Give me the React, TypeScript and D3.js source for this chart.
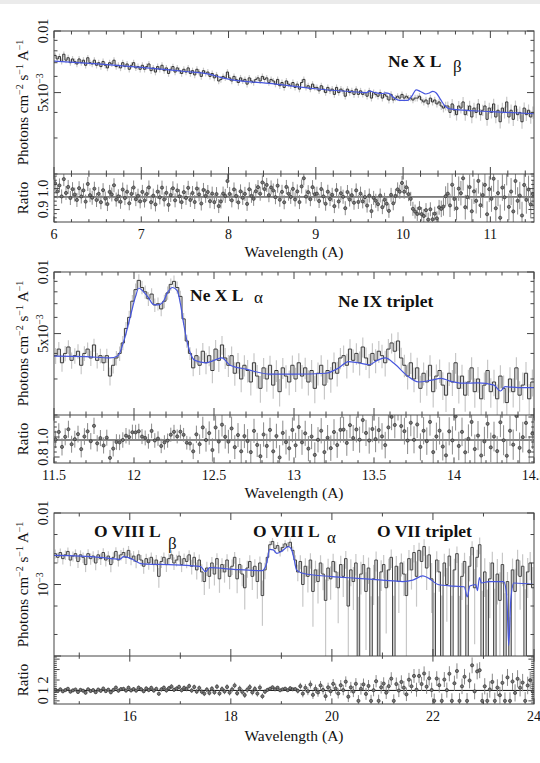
import React from "react";
import * as d3 from "d3";

// ---------------- Panel 1 : 6 – 11.5 Å ----------------
const P1_BIN_START = 6.0;
const P1_BIN_WIDTH = 0.025;
// flux in units of 1e-3 photons cm^-2 s^-1 A^-1
const P1_FLUX = [
  7.6, 7.3, 7.5, 7.1, 7.7, 7.2, 7.4, 7.0, 7.3, 7.1, 6.9, 7.3, 7.0, 7.2, 6.8, 7.4, 7.0, 6.9, 7.2, 6.8,
  7.0, 6.7, 7.1, 6.8, 6.6, 7.0, 6.9, 7.2, 6.7, 6.8, 6.6, 7.0, 6.7, 6.9, 6.5, 6.8, 7.0, 6.6, 6.7, 6.5,
  6.8, 6.5, 6.7, 6.9, 6.4, 6.6, 6.3, 6.7, 6.5, 6.8, 6.4, 6.6, 6.2, 6.5, 6.7, 6.3, 6.6, 6.4, 6.2, 6.5,
  6.3, 6.6, 6.2, 6.4, 6.1, 6.5, 6.3, 6.0, 6.4, 6.2, 6.3, 6.0, 6.2, 5.9, 6.1, 5.7, 5.8, 6.0, 5.9, 6.3,
  5.9, 5.7, 6.0, 5.8, 5.6, 5.9, 5.7, 5.8, 5.5, 5.9, 5.7, 5.6, 5.8, 5.9, 5.7, 6.0, 5.8, 5.9, 5.6, 5.8,
  5.7, 5.5, 5.8, 5.4, 5.6, 5.3, 5.7, 5.5, 5.4, 5.6, 5.3, 5.5, 5.2, 5.6, 5.8, 5.3, 5.4, 5.2, 5.5, 5.3,
  5.3, 5.1, 5.4, 5.2, 5.0, 5.3, 5.1, 5.2, 4.9, 5.3, 5.0, 5.2, 5.1, 4.8, 5.2, 5.0, 5.1, 4.9, 5.2, 4.9,
  5.1, 4.9, 5.0, 4.8, 5.1, 4.7, 5.0, 4.9, 4.8, 5.0, 4.7, 4.9, 4.8, 4.6, 4.9, 4.6, 4.7, 4.8, 4.7, 4.9,
  4.7, 4.8, 4.7, 4.7, 4.6, 4.7, 4.7, 4.8, 4.6, 4.5, 4.6, 4.4, 4.7, 4.5, 4.6, 4.4, 4.5, 4.3, 4.2, 4.3,
  4.3, 4.0, 4.4, 4.1, 3.9, 4.3, 4.2, 4.5, 3.9, 4.1, 4.3, 3.8, 4.2, 4.0, 4.4, 3.9, 4.1, 4.3, 3.7, 4.2,
  4.0, 4.4, 3.8, 4.1, 3.6, 4.2, 4.0, 4.5, 3.8, 4.1, 3.7, 4.3, 3.9, 4.0, 3.6, 4.2, 3.9, 4.1, 3.8, 4.0,
];
const P1_MODEL_WL = [
  6.0, 6.5, 7.0, 7.5, 7.8, 7.9, 8.0, 8.5, 9.0, 9.5,
  9.58, 9.62, 9.68, 9.76, 9.8, 9.84, 9.9, 9.96, 10.05, 10.1,
  10.15, 10.2, 10.26, 10.3, 10.34, 10.38, 10.43, 10.48, 10.55, 11.0,
  11.5,
];
const P1_MODEL = [
  7.12, 6.9, 6.64, 6.34, 6.12, 5.95, 5.82, 5.53, 5.22, 5.02,
  5.0, 5.08, 5.0, 4.95, 4.98, 4.94, 4.7, 4.58, 4.58, 4.8,
  5.16, 5.06, 4.92, 4.98, 5.07, 4.98, 4.62, 4.3, 4.15, 4.04,
  3.94,
];
const P1_ERR_WL = [6.0, 10.4, 10.55, 11.5];
const P1_ERR = [0.035, 0.035, 0.06, 0.07];
const P1_X_LABELS = [6, 7, 8, 9, 10, 11];

// ---------------- Panel 2 : 11.5 – 14.5 Å ----------------
const P2_BIN_START = 11.5;
const P2_BIN_WIDTH = 0.02;
const P2_FLUX = [
  3.9, 4.2, 3.6, 4.0, 4.3, 3.7, 3.9, 4.1, 3.5, 4.0, 4.2, 3.8, 4.4, 3.7, 3.9,
  3.6, 3.9, 3.1, 3.5, 3.8, 4.0, 4.5, 5.3, 6.0, 7.2,
  8.2, 9.1, 8.4, 8.0, 7.4, 7.8, 6.9, 7.0, 6.6, 7.2,
  7.9, 8.7, 9.0, 8.4, 7.6, 5.9, 4.6, 4.0, 3.4, 3.9,
  3.5, 4.1, 3.6, 3.9, 3.3, 4.2, 3.7, 4.4, 3.8, 3.5, 3.9, 3.2, 3.6, 3.0, 3.5,
  3.3, 2.9, 3.6, 3.1, 2.7, 3.4, 3.0, 3.5, 2.8, 3.3, 2.6, 3.4, 3.1, 2.9, 3.5,
  3.0, 3.6, 3.1, 3.4, 2.9, 3.3, 2.7, 3.2, 3.5, 2.8, 3.3, 3.0, 3.6, 3.2, 3.8,
  3.9, 3.5, 4.2, 3.7, 4.0, 3.6, 4.3, 3.8, 3.5, 4.0, 3.7, 4.1, 3.9, 3.6, 4.2,
  4.5, 4.1, 4.6, 3.8, 3.5, 3.1, 3.6, 3.0, 3.4, 2.7, 3.2, 2.9, 3.5, 2.6, 3.1,
  3.3, 2.8, 2.5, 3.2, 2.9, 3.6, 2.7, 3.1, 2.5, 2.9, 3.4, 2.6, 3.0, 2.4, 2.8,
  3.3, 2.6, 2.9, 2.4, 3.1, 2.7, 2.3, 3.0, 2.6, 3.4, 2.5, 2.8, 3.2, 2.4, 2.9,
];
const P2_MODEL_WL = [
  11.5, 11.7, 11.85, 11.9, 11.94, 11.98, 12.01, 12.03, 12.06, 12.09,
  12.12, 12.15, 12.18, 12.21, 12.24, 12.27, 12.29, 12.31, 12.34, 12.38,
  12.45, 12.5, 12.55, 12.6, 12.7, 12.85, 13.0, 13.2, 13.28, 13.34,
  13.4, 13.47, 13.52, 13.57, 13.63, 13.7, 13.78, 13.85, 13.92, 13.98,
  14.05, 14.15, 14.25, 14.29, 14.32, 14.4, 14.5,
];
const P2_MODEL = [
  3.88, 3.86, 3.8, 3.9, 4.7, 6.2, 7.6, 8.35, 8.0, 7.5,
  6.95, 6.9, 7.1, 7.95, 8.4, 8.1, 7.0, 5.6, 4.3, 3.7,
  3.6, 3.7, 3.8, 3.5, 3.35, 3.17, 3.17, 3.2, 3.4, 3.65,
  3.6, 3.52, 3.7, 3.8, 3.55, 3.15, 2.9, 2.95, 3.02, 2.92,
  2.86, 2.87, 2.8, 2.62, 2.75, 2.72, 2.72,
];
const P2_ERR_WL = [11.5, 12.35, 12.45, 13.8, 14.5];
const P2_ERR = [0.09, 0.07, 0.12, 0.14, 0.16];
const P2_X_LABELS = [11.5, 12, 12.5, 13, 13.5, 14, 14.5];

// ---------------- Panel 3 : 14.5 – 24 Å ----------------
const P3_BIN_START = 14.5;
const P3_BIN_WIDTH = 0.05;
const P3_FLUX = [
  2.7, 2.4, 2.8, 2.3, 2.6, 2.9, 2.2, 2.5, 2.7, 2.1,
  2.6, 2.4, 1.9, 2.7, 2.3, 2.5, 2.0, 2.6, 2.3, 2.8,
  2.2, 2.5, 1.9, 2.4, 2.9, 2.2, 2.6, 2.8, 2.4, 3.0,
  2.3, 2.5, 2.1, 2.6, 2.2, 1.8, 2.3, 2.0, 2.4, 1.9,
  2.2, 1.3, 2.1, 2.4, 1.9, 2.3, 2.6, 2.0, 2.2, 2.5,
  1.9, 2.3, 2.1, 2.6, 1.8, 2.4, 1.6, 2.2, 1.5, 1.1,
  1.7, 1.3, 2.0, 1.4, 2.3, 1.2, 1.9, 1.5, 2.2, 1.3,
  1.8, 2.4, 1.2, 1.9, 1.4, 0.9, 1.7, 2.1, 1.3, 1.8,
  1.1, 2.0, 0.7, 1.6, 2.4, 3.6, 4.0, 3.2, 3.5, 2.9,
  3.3, 3.7, 3.4, 3.9, 3.0, 2.2, 1.5, 2.1, 1.0, 1.8,
  1.3, 2.2, 0.8, 1.6, 1.1, 2.0, 1.4, 0.6, 1.7, 1.2,
  2.1, 1.5, 0.9, 1.9, 1.3, 2.3, 0.5, 1.6, 1.1, 2.0,
  0.0, 1.4, 1.9, 0.8, 1.7, 0.0, 1.2, 2.2, 0.0, 1.5,
  1.9, 0.9, 1.6, 2.4, 0.0, 1.8, 1.1, 2.0, 1.4, 0.7,
  2.3, 1.6, 2.8, 1.3, 3.0, 2.1, 3.4, 1.7, 2.6, 1.2,
  0.0, 2.2, 1.5, 0.0, 2.0, 1.0, 2.5, 0.0, 1.6, 2.7,
  0.0, 1.3, 2.1, 0.0, 1.8, 3.3, 0.9, 2.4, 3.6, 0.0,
  1.5, 0.0, 1.2, 2.0, 0.0, 1.4, 0.6, 1.9, 0.0, 1.1,
  0.0, 1.6, 0.8, 2.2, 1.3, 1.8, 0.0, 1.5, 2.0, 0.9,
];
const P3_MODEL_WL = [
  14.5, 15.4, 15.8, 15.88, 15.96, 16.05, 16.25, 16.9, 17.4, 17.5,
  17.58, 18.05, 18.62, 18.71, 18.77, 18.84, 18.91, 19.0, 19.14, 19.2,
  19.25, 19.3, 19.4, 20.0, 20.5, 21.0, 21.4, 21.6, 21.8, 21.95,
  22.1, 22.4, 22.62, 22.68, 22.73, 22.85, 22.88, 22.92, 22.96, 23.1,
  23.4, 23.46, 23.5, 23.54, 23.6, 24.0,
];
const P3_MODEL = [
  2.55, 2.4, 2.25, 2.45, 2.4, 2.25, 1.94, 1.88, 1.78, 1.51,
  1.72, 1.63, 1.56, 2.0, 3.1, 3.05, 2.73, 2.9, 3.38, 3.1,
  2.3, 1.6, 1.45, 1.29, 1.22, 1.15, 1.1, 1.15, 1.32, 1.18,
  1.0, 0.95, 0.93, 0.67, 0.95, 1.0, 0.82, 1.25, 1.05, 1.1,
  1.1, 0.7, 0.14, 0.6, 1.05, 1.0,
];
const P3_ERR_WL = [14.5, 17.0, 18.6, 18.75, 19.25, 19.4, 20.5, 22.0, 24.0];
const P3_ERR = [0.15, 0.22, 0.3, 0.15, 0.15, 0.35, 0.55, 0.7, 0.85];
const P3_X_LABELS = [16, 18, 20, 22, 24];

// ---------------------------------------------------------
const FONT = "'Liberation Serif', 'Times New Roman', 'DejaVu Serif', serif";
const X0 = 54;
const X1 = 534;
const FRAME = "#444";

function lerp(xs: number[], ys: number[], v: number) {
  if (v <= xs[0]) return ys[0];
  if (v >= xs[xs.length - 1]) return ys[ys.length - 1];
  const i = d3.bisectRight(xs, v);
  const t = (v - xs[i - 1]) / (xs[i] - xs[i - 1]);
  return ys[i - 1] + t * (ys[i] - ys[i - 1]);
}

type YLabel = { v: number; base: string; sup?: string };

type Cfg = {
  xDomain: [number, number];
  yDomain: [number, number];
  rDomain: [number, number];
  rRef: number;
  binStart: number;
  binWidth: number;
  flux: number[];
  modelWl: number[];
  model: number[];
  errWl: number[];
  err: number[];
  xMinorStart: number;
  xMinorStep: number;
  xMajorStep: number;
  xLabels: number[];
  yTicks: number[];
  yMajor: number[];
  yLabels: YLabel[];
  rMinorStart: number;
  rMinorStep: number;
  rMajorStep: number;
  rLabels: YLabel[];
  wlLabelY: number;
  histColor: string;
};

const LIN_Y_TICKS = [0.002, 0.003, 0.004, 0.005, 0.006, 0.007, 0.008, 0.009, 0.01];
const LOG_Y_TICKS = [1e-4, 2e-4, 5e-4, 1e-3, 2e-3, 5e-3, 1e-2];

const PANELS: Cfg[] = [
  {
    xDomain: [6, 11.5], yDomain: [0.002, 0.01], rDomain: [0.84, 1.07], rRef: 0.96,
    binStart: P1_BIN_START, binWidth: P1_BIN_WIDTH, flux: P1_FLUX,
    modelWl: P1_MODEL_WL, model: P1_MODEL, errWl: P1_ERR_WL, err: P1_ERR,
    xMinorStart: 6, xMinorStep: 0.2, xMajorStep: 1, xLabels: P1_X_LABELS,
    yTicks: LIN_Y_TICKS, yMajor: [0.005, 0.01],
    yLabels: [{ v: 0.01, base: "0.01" }, { v: 0.005, base: "5x10", sup: "−3" }],
    rMinorStart: 0.84, rMinorStep: 0.02, rMajorStep: 0.1,
    rLabels: [{ v: 1.0, base: "1.0" }, { v: 0.9, base: "0.9" }],
    wlLabelY: 257, histColor: "#333",
  },
  {
    xDomain: [11.5, 14.5], yDomain: [0.002, 0.01], rDomain: [0.74, 1.22], rRef: 0.97,
    binStart: P2_BIN_START, binWidth: P2_BIN_WIDTH, flux: P2_FLUX,
    modelWl: P2_MODEL_WL, model: P2_MODEL, errWl: P2_ERR_WL, err: P2_ERR,
    xMinorStart: 11.5, xMinorStep: 0.1, xMajorStep: 0.5, xLabels: P2_X_LABELS,
    yTicks: LIN_Y_TICKS, yMajor: [0.005, 0.01],
    yLabels: [{ v: 0.01, base: "0.01" }, { v: 0.005, base: "5x10", sup: "−3" }],
    rMinorStart: 0.75, rMinorStep: 0.05, rMajorStep: 0.2,
    rLabels: [{ v: 1.0, base: "1.0" }, { v: 0.8, base: "0.8" }],
    wlLabelY: 498, histColor: "#3a3a3a",
  },
  {
    xDomain: [14.5, 24], yDomain: [1e-4, 0.01], rDomain: [-0.3, 4.3], rRef: 1,
    binStart: P3_BIN_START, binWidth: P3_BIN_WIDTH, flux: P3_FLUX,
    modelWl: P3_MODEL_WL, model: P3_MODEL, errWl: P3_ERR_WL, err: P3_ERR,
    xMinorStart: 15, xMinorStep: 1, xMajorStep: 2, xLabels: P3_X_LABELS,
    yTicks: LOG_Y_TICKS, yMajor: [1e-4, 1e-3, 1e-2],
    yLabels: [{ v: 0.01, base: "0.01" }, { v: 0.001, base: "10", sup: "−3" }],
    rMinorStart: -0.2, rMinorStep: 0.2, rMajorStep: 1,
    rLabels: [{ v: 2, base: "2" }, { v: 1, base: "1" }, { v: 0, base: "0" }],
    wlLabelY: 741, histColor: "#444",
  },
];

function isMajor(v: number, step: number) {
  return Math.abs(v / step - Math.round(v / step)) < 1e-6;
}

function RotLabel({ x, y, lab, size }: { x: number; y: number; lab: YLabel; size: number }) {
  return (
    <text transform={`translate(${x},${y}) rotate(-90)`} textAnchor="middle" fontSize={size} fill="#111">
      {lab.base}
      {lab.sup ? (
        <tspan dy={-5} fontSize={size * 0.7}>
          {lab.sup}
        </tspan>
      ) : null}
    </text>
  );
}

function Panel({ cfg, k }: { cfg: Cfg; k: number }) {
  const top = 31 + 241 * k;
  const mid = 174 + 241 * k;
  const bot = 222 + 241 * k;
  const x = d3.scaleLinear().domain(cfg.xDomain).range([X0, X1]);
  const y = d3.scaleLog().domain(cfg.yDomain).range([mid, top]);
  const yr = d3.scaleLinear().domain(cfg.rDomain).range([bot, mid]);
  const floor = cfg.yDomain[0] * 0.7;

  const bins = cfg.flux.map((v, i) => {
    const lo = cfg.binStart + i * cfg.binWidth;
    const hi = lo + cfg.binWidth;
    const c = lo + cfg.binWidth / 2;
    const f = v * 1e-3;
    const m = lerp(cfg.modelWl, cfg.model, c) * 1e-3;
    const e = lerp(cfg.errWl, cfg.err, c) * m;
    return { lo, hi, c, f, m, e };
  });
  const last = bins[bins.length - 1];
  const histPts: [number, number][] = bins.map((b) => [b.lo, Math.max(b.f, floor)] as [number, number]);
  histPts.push([last.hi, Math.max(last.f, floor)]);
  const hist = d3
    .line<[number, number]>()
    .x((d) => x(d[0]))
    .y((d) => y(d[1]))
    .curve(d3.curveStepAfter)(histPts);
  const modelPts: [number, number][] = cfg.modelWl.map((w, i) => [w, cfg.model[i] * 1e-3] as [number, number]);
  const modelPath = d3
    .line<[number, number]>()
    .x((d) => x(d[0]))
    .y((d) => y(d[1]))
    .curve(d3.curveMonotoneX)(modelPts);

  const xTicks = d3.range(cfg.xMinorStart, cfg.xDomain[1] + 1e-9, cfg.xMinorStep);
  const rTicks = d3.range(cfg.rMinorStart, cfg.rDomain[1], cfg.rMinorStep);
  const majL = 7;
  const minL = 3.5;
  const tickEls: React.ReactNode[] = [];
  xTicks.forEach((v, i) => {
    const L = isMajor(v, cfg.xMajorStep) ? majL : minL;
    const px = x(v);
    tickEls.push(<line key={`xt${i}a`} x1={px} x2={px} y1={top} y2={top + L} />);
    tickEls.push(<line key={`xt${i}b`} x1={px} x2={px} y1={mid} y2={mid - L} />);
    tickEls.push(<line key={`xt${i}c`} x1={px} x2={px} y1={mid} y2={mid + L * 0.8} />);
    tickEls.push(<line key={`xt${i}d`} x1={px} x2={px} y1={bot} y2={bot - L * 0.8} />);
  });
  cfg.yTicks.forEach((v, i) => {
    const L = cfg.yMajor.some((m) => Math.abs(m - v) < 1e-12) ? majL : minL;
    const py = y(v);
    tickEls.push(<line key={`yt${i}a`} x1={X0} x2={X0 + L} y1={py} y2={py} />);
    tickEls.push(<line key={`yt${i}b`} x1={X1} x2={X1 - L} y1={py} y2={py} />);
  });
  rTicks.forEach((v, i) => {
    if (v < cfg.rDomain[0] || v > cfg.rDomain[1]) return;
    const L = isMajor(v, cfg.rMajorStep) ? majL * 0.8 : minL * 0.8;
    const py = yr(v);
    tickEls.push(<line key={`rt${i}a`} x1={X0} x2={X0 + L} y1={py} y2={py} />);
    tickEls.push(<line key={`rt${i}b`} x1={X1} x2={X1 - L} y1={py} y2={py} />);
  });

  const ct = `clipTop${k}`;
  const cr = `clipRat${k}`;
  return (
    <g>
      <defs>
        <clipPath id={ct}>
          <rect x={X0} y={top} width={X1 - X0} height={mid - top} />
        </clipPath>
        <clipPath id={cr}>
          <rect x={X0} y={mid} width={X1 - X0} height={bot - mid} />
        </clipPath>
      </defs>
      {/* spectrum */}
      <g clipPath={`url(#${ct})`}>
        {bins.map((b, i) => (
          <line
            key={`e${i}`}
            x1={x(b.c)}
            x2={x(b.c)}
            y1={y(Math.max(b.f - b.e, floor))}
            y2={y(b.f + b.e)}
            stroke="#c8c8c8"
            strokeWidth={1.2}
          />
        ))}
        <path d={hist || ""} fill="none" stroke={cfg.histColor} strokeWidth={1} />
        <path d={modelPath || ""} fill="none" stroke="#4756de" strokeWidth={1.2} />
      </g>
      {/* ratio */}
      <g clipPath={`url(#${cr})`}>
        <line x1={X0} x2={X1} y1={yr(cfg.rRef)} y2={yr(cfg.rRef)} stroke="#111" strokeWidth={1} />
        {bins.map((b, i) => {
          const r = (cfg.rRef * b.f) / b.m;
          const er = (cfg.rRef * b.e) / b.m;
          return (
            <line key={`re${i}`} x1={x(b.c)} x2={x(b.c)} y1={yr(r - er)} y2={yr(r + er)} stroke="#8a8a8a" strokeWidth={1} />
          );
        })}
        {bins.map((b, i) => {
          const r = (cfg.rRef * b.f) / b.m;
          return <circle key={`rp${i}`} cx={x(b.c)} cy={yr(r)} r={1.6} fill="#777" stroke="#222" strokeWidth={0.6} />;
        })}
      </g>
      {/* frame & ticks */}
      <g stroke={FRAME} strokeWidth={1}>{tickEls}</g>
      <rect x={X0} y={top} width={X1 - X0} height={bot - top} fill="none" stroke={FRAME} strokeWidth={1} />
      <line x1={X0} x2={X1} y1={mid} y2={mid} stroke={FRAME} strokeWidth={1} />
      {/* labels */}
      {cfg.xLabels.map((v, i) => (
        <text key={`xl${i}`} x={x(v)} y={bot + 17} textAnchor="middle" fontSize={14} fill="#111">
          {String(v)}
        </text>
      ))}
      <text x={(X0 + X1) / 2} y={cfg.wlLabelY} textAnchor="middle" fontSize={15.5} fill="#111">
        Wavelength (A)
      </text>
      {cfg.yLabels.map((lab, i) => (
        <RotLabel key={`yl${i}`} x={48} y={y(lab.v)} lab={lab} size={14} />
      ))}
      {cfg.rLabels.map((lab, i) => (
        <RotLabel key={`rl${i}`} x={48} y={yr(lab.v)} lab={lab} size={14} />
      ))}
      <text transform={`translate(28,${(top + mid) / 2}) rotate(-90)`} textAnchor="middle" fontSize={15} fill="#111">
        Photons cm
        <tspan dy={-5} fontSize={10}>−2</tspan>
        <tspan dy={5}> s</tspan>
        <tspan dy={-5} fontSize={10}>−1</tspan>
        <tspan dy={5}> A</tspan>
        <tspan dy={-5} fontSize={10}>−1</tspan>
      </text>
      <text transform={`translate(28,${(mid + bot) / 2}) rotate(-90)`} textAnchor="middle" fontSize={15} fill="#111">
        Ratio
      </text>
    </g>
  );
}

export default function App() {
  const bold = { fontSize: 17.5, fontWeight: 700 as const, fill: "#111" };
  const greek = { fontSize: 17, fill: "#111" };
  return (
    <div style={{ position: "absolute", left: 0, top: 0, width: 540, height: 763, background: "#fff" }}>
      <svg width={540} height={763} style={{ display: "block" }} fontFamily={FONT}>
        <rect x={0} y={0} width={540} height={763} fill="#fff" />
        <rect x={0} y={0} width={540} height={4} fill="#ebebeb" />
        {PANELS.map((p, k) => (
          <Panel key={k} cfg={p} k={k} />
        ))}
        {/* annotations */}
        <text x={388} y={67} {...bold}>Ne X L</text>
        <text x={453} y={72} {...greek}>β</text>
        <text x={190} y={301} {...bold}>Ne X L</text>
        <text x={254} y={303} {...greek}>α</text>
        <text x={338} y={307} {...bold}>Ne IX triplet</text>
        <text x={94} y={537} {...bold}>O VIII L</text>
        <text x={168} y={549} {...greek}>β</text>
        <text x={253} y={537} {...bold}>O VIII L</text>
        <text x={327} y={543} {...greek}>α</text>
        <text x={377} y={537} {...bold}>O VII triplet</text>
      </svg>
    </div>
  );
}
